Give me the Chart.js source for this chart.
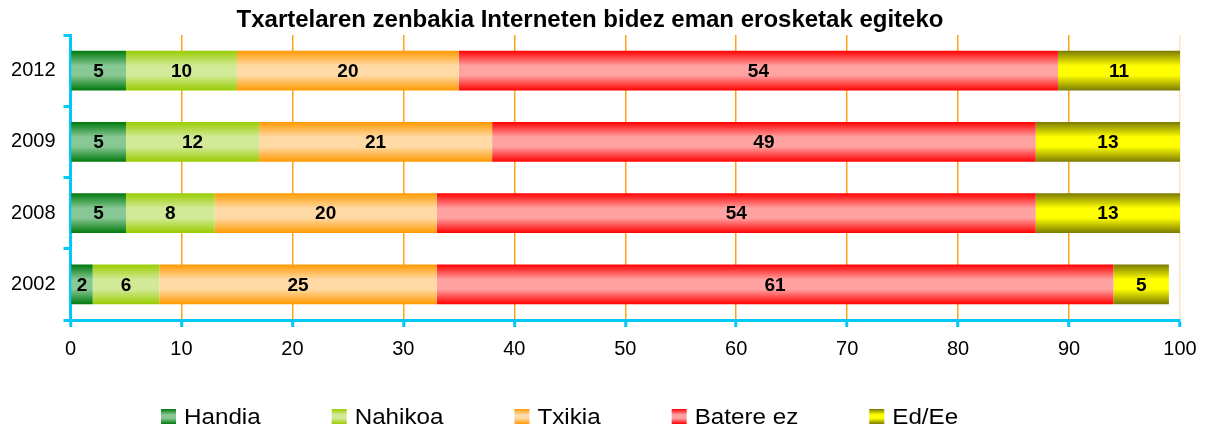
<!DOCTYPE html>
<html>
<head>
<meta charset="utf-8">
<script src="https://cdn.jsdelivr.net/npm/chart.js@4"></script>
<style>
  html, body { margin: 0; padding: 0; background: #ffffff; }
  #wrap { width: 1210px; height: 430px; position: relative; }
</style>
</head>
<body>
<div id="wrap"><canvas id="c" width="1210" height="430"></canvas></div>
<script>
const titleText = 'Txartelaren zenbakia Interneten bidez eman erosketak egiteko';
const years = ['2012', '2009', '2008', '2002'];
const seriesNames = ['Handia', 'Nahikoa', 'Txikia', 'Batere ez', 'Ed/Ee'];
const handia   = [5, 5, 5, 2];
const nahikoa  = [10, 12, 8, 6];
const txikia   = [20, 21, 20, 25];
const batereEz = [54, 49, 54, 61];
const edEe     = [11, 13, 13, 5];
const xTicks   = [0, 10, 20, 30, 40, 50, 60, 70, 80, 90, 100];

const darkColors  = ['#00780C', '#99CC00', '#FF9900', '#FF0000', '#7A7A00'];
const lightColors = ['#88C894', '#D2EA98', '#FFDAA6', '#FFA2A2', '#FFFF00'];

const FONT = "'Liberation Sans', Arial, sans-serif";
const AXIS = '#00C8F8';

function vGrad(ctx2d, y0, y1, dark, light) {
  const g = ctx2d.createLinearGradient(0, y0, 0, y1);
  g.addColorStop(0, dark);
  g.addColorStop(0.38, light);
  g.addColorStop(0.62, light);
  g.addColorStop(1, dark);
  return g;
}

function barFill(i) {
  return (c) => {
    const chart = c.chart;
    if (!chart.chartArea || c.type !== 'data' || !chart.scales.y) return darkColors[i];
    const cy = chart.scales.y.getPixelForValue(c.dataIndex);
    const half = chart.scales.y.getPixelForValue(1) - chart.scales.y.getPixelForValue(0);
    const h = Math.abs(half) * 0.56 / 2;
    return vGrad(chart.ctx, cy - h, cy + h, darkColors[i], lightColors[i]);
  };
}

const seriesData = [handia, nahikoa, txikia, batereEz, edEe];
const datasets = seriesData.map((d, i) => ({
  label: seriesNames[i],
  data: d,
  backgroundColor: barFill(i),
  borderWidth: 0,
  barPercentage: 0.56,
  categoryPercentage: 1.0
}));

const valueLabels = {
  id: 'valueLabels',
  afterDatasetsDraw(chart) {
    const ctx = chart.ctx;
    ctx.save();
    ctx.font = "bold 19px " + FONT;
    ctx.fillStyle = '#000000';
    ctx.textAlign = 'center';
    ctx.textBaseline = 'middle';
    chart.data.datasets.forEach((ds, di) => {
      const meta = chart.getDatasetMeta(di);
      meta.data.forEach((el, idx) => {
        const v = ds.data[idx];
        const p = el.getCenterPoint();
        ctx.fillText(String(v), p.x, p.y + 1);
      });
    });
    ctx.restore();
  }
};

const customLegend = {
  id: 'customLegend',
  afterDraw(chart) {
    const ctx = chart.ctx;
    ctx.save();
    const fontPx = 22;
    const stretch = 1.1;
    const box = 15;
    const textGap = 8;
    const itemGap = 71;
    const boxTop = 409;
    const baseline = 424;
    ctx.font = fontPx + 'px ' + FONT;
    ctx.textBaseline = 'alphabetic';
    ctx.textAlign = 'left';
    let x = 161;
    seriesNames.forEach((name, i) => {
      ctx.fillStyle = vGrad(ctx, boxTop, boxTop + box, darkColors[i], lightColors[i]);
      ctx.fillRect(x, boxTop, box, box);
      const tx = x + box + textGap;
      const w = ctx.measureText(name).width * stretch;
      ctx.save();
      ctx.translate(tx, baseline);
      ctx.scale(stretch, 1);
      ctx.fillStyle = '#000000';
      ctx.fillText(name, 0, 0);
      ctx.restore();
      x = tx + w + itemGap;
    });
    ctx.restore();
  }
};

new Chart(document.getElementById('c'), {
  type: 'bar',
  data: { labels: years, datasets: datasets },
  plugins: [valueLabels, customLegend],
  options: {
    indexAxis: 'y',
    responsive: false,
    animation: false,
    devicePixelRatio: 1,
    layout: { padding: { left: 0, right: 30, top: 0, bottom: 70 } },
    plugins: {
      legend: { display: false },
      tooltip: { enabled: false },
      title: {
        display: true,
        text: titleText,
        color: '#000000',
        font: { family: FONT, size: 24, weight: 'bold' },
        padding: { top: 5.5, bottom: 0.7 }
      }
    },
    scales: {
      x: {
        stacked: true,
        min: 0,
        max: 100,
        afterBuildTicks(scale) { scale.ticks = xTicks.map(v => ({ value: v })); },
        afterFit(scale) { scale.height = 40; },
        ticks: {
          color: '#000000',
          font: { family: FONT, size: 20 },
          padding: 10,
          maxRotation: 0
        },
        grid: {
          color: (c) => {
            if (c.tick && c.tick.value === 0) return 'rgba(0,0,0,0)';
            if (c.tick && c.tick.value === 100) return '#FFE2C2';
            return '#FFA31A';
          },
          lineWidth: 1.5,
          drawTicks: true,
          tickLength: 7,
          tickColor: AXIS,
          tickWidth: 3
        },
        border: { display: true, color: AXIS, width: 3 }
      },
      y: {
        stacked: true,
        afterFit(scale) { scale.width = 70.5; },
        ticks: {
          color: '#000000',
          font: { family: FONT, size: 20 },
          padding: 8
        },
        grid: {
          offset: true,
          drawOnChartArea: false,
          drawTicks: true,
          tickLength: 7,
          tickColor: AXIS,
          tickWidth: 3,
          color: AXIS
        },
        border: { display: true, color: AXIS, width: 3 }
      }
    }
  }
});
</script>
</body>
</html>
